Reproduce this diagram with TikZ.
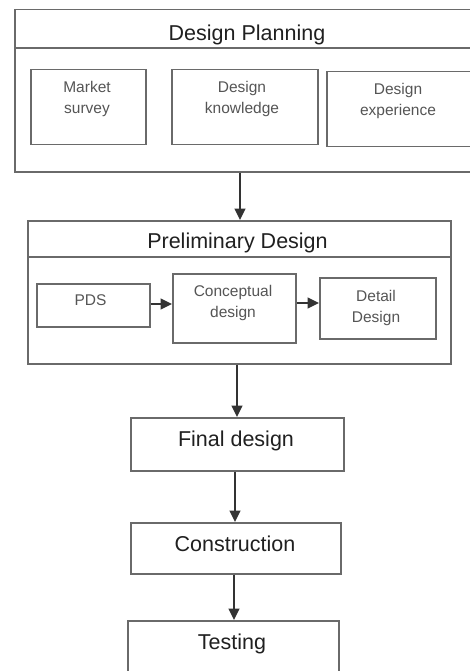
\documentclass[tikz,border=0pt]{standalone}
\usepackage{fontspec}
\setmainfont{Liberation Sans}
\usetikzlibrary{arrows.meta}
\definecolor{linec}{HTML}{6A6A6A}
\definecolor{titlec}{HTML}{202020}
\definecolor{smallc}{HTML}{555555}
\begin{document}
\begin{tikzpicture}[x=1pt,y=-1pt,
  box/.style={draw=linec, line width=1.5pt, anchor=north west, inner sep=0pt, rectangle},
  bigtxt/.style={anchor=north, inner sep=0pt, text=titlec, font=\fontsize{21.5}{25}\selectfont},
  smalltxt/.style={anchor=north, inner sep=0pt, text=smallc, align=center, font=\fontsize{15.5}{21}\selectfont},
  arr/.style={draw=black!80, line width=1.5pt, -{Triangle[length=11.5pt,width=11pt]}}]
\useasboundingbox (0,0) rectangle (470,671);
\fill[white] (0,0) rectangle (470,671);
\clip (0,0) rectangle (470,671);

% Design Planning group
\node[box, minimum width=466pt, minimum height=162pt] (dp) at (14,9) {};
\draw[linec, line width=1.5pt] (dp.west |- 0,48) -- (dp.east |- 0,48);
\node[bigtxt] (dpt) at (247,25) {Design Planning};
\node[box, minimum width=115pt, minimum height=75pt] (ms) at (30,69) {};
\node[smalltxt] (mst) at (87,81.5) {Market\\survey};
\node[box, minimum width=146pt, minimum height=75pt] (dk) at (171,69) {};
\node[smalltxt] (dkt) at (242,81.5) {Design\\knowledge};
\node[box, minimum width=145pt, minimum height=75pt] (de) at (326,71) {};
\node[smalltxt] (det) at (398,83) {Design\\experience};

% Preliminary Design group
\node[box, minimum width=423pt, minimum height=143pt] (pd) at (27,220) {};
\draw[linec, line width=1.5pt] (pd.west |- 0,257) -- (pd.east |- 0,257);
\node[bigtxt] (pdt) at (237.5,233) {Preliminary Design};
\node[box, minimum width=113pt, minimum height=43pt] (pds) at (36,283) {};
\node[smalltxt] (pdst) at (90.5,294) {PDS};
\node[box, minimum width=123pt, minimum height=69pt] (cd) at (172,273) {};
\node[smalltxt] (cdt) at (233,285) {Conceptual\\design};
\node[box, minimum width=116pt, minimum height=61pt] (dd) at (319,277) {};
\node[smalltxt] (ddt) at (376,290) {Detail\\Design};

% Sequence
\node[box, minimum width=213pt, minimum height=53pt] (fd) at (130,417) {};
\node[bigtxt] (fdt) at (236,430.5) {Final design};
\node[box, minimum width=210pt, minimum height=51pt] (co) at (130,522) {};
\node[bigtxt] (cot) at (235,535.5) {Construction};
\node[box, minimum width=211pt, minimum height=70pt] (te) at (127,620) {};
\node[bigtxt] (tet) at (232,634) {Testing};

% Connectors
\draw[arr] (dp.south -| 240,0) -- (pd.north -| 240,0);
\draw[arr] (pds.east |- 0,304) -- (cd.west |- 0,304);
\draw[arr] (cd.east |- 0,303) -- (dd.west |- 0,303);
\draw[arr] (pd.south -| 237,0) -- (fd.north -| 237,0);
\draw[arr] (fd.south -| 235,0) -- (co.north -| 235,0);
\draw[arr] (co.south -| 234,0) -- (te.north -| 234,0);
\end{tikzpicture}
\end{document}
